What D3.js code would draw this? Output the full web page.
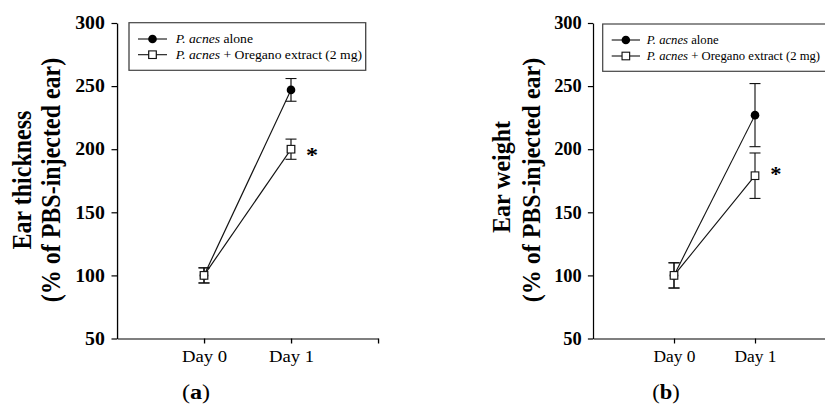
<!DOCTYPE html>
<html><head><meta charset="utf-8">
<script src="https://cdn.jsdelivr.net/npm/d3@7"></script>
<style>body{margin:0;background:#fff} svg{display:block}</style>
</head><body><svg id="c" width="825" height="404"></svg>
<script>
// ---- data ----
const days = [0, 1];
const dayLabels = ["Day 0", "Day 1"];
const yTicks = [50, 100, 150, 200, 250, 300];
const legendLabels = [" alone", " + Oregano extract (2 mg)"];
// Panel (a) ear thickness (% of PBS-injected ear)
const thickAlone = [100, 247];
const thickAloneErr = [6, 9];
const thickOregano = [100, 200];
const thickOreganoErr = [6, 8];
// Panel (b) ear weight (% of PBS-injected ear)
const weightAlone = [100, 227];
const weightAloneErr = [10, 25];
const weightOregano = [100, 179];
const weightOreganoErr = [10, 18];
// significance marker positions (value)
const starValues = [198, 183];

const FONT = "'Liberation Serif','Times New Roman',serif";
const svg = d3.select("#c");

const panels = [
  {sx:1.1, day0:204, day1:291, title:"Ear thickness", titleX:[31,60], titleY:180,
   leg:{x0:129,x1:365.7,y0:22.7,y1:70.3,rows:[39,54.7],line:[138,167],text:175.7},
   label:"a", alone:thickAlone, aloneErr:thickAloneErr, ore:thickOregano, oreErr:thickOreganoErr, star:starValues[0]},
  {sx:1.023, day0:674, day1:755, title:"Ear weight", titleX:[510,540], titleY:177,
   leg:{x0:602.7,x1:845,y0:24,y1:71.3,rows:[40,56],line:[611.7,640],text:646.7},
   label:"b", alone:weightAlone, aloneErr:weightAloneErr, ore:weightOregano, oreErr:weightOreganoErr, star:starValues[1]}
];

const y = d3.scaleLinear().domain([50, 300]).range([338.5, 23]);

panels.forEach(p => {
  const sx = p.sx;
  const g = svg.append("g").attr("transform", `scale(${sx},1)`);
  const x = d3.scaleLinear().domain([0, 1]).range([p.day0/sx, p.day1/sx]);
  const xAxisScale = d3.scaleLinear().domain([-1, 2]).range([x(-1), x(2)]);

  // y axis
  const ya = g.append("g").attr("transform", `translate(${x(-1)},0)`)
    .call(d3.axisLeft(y).tickValues(yTicks).tickSize(5).tickSizeOuter(0).tickPadding(6));
  ya.selectAll("text").attr("font-family", FONT).attr("font-size", 18).attr("font-weight", "bold").attr("fill", "#000");
  ya.selectAll("line,path").attr("stroke", "#000").attr("stroke-width", 1.2);

  // x axis
  const xa = g.append("g").attr("transform", `translate(0,${y(50)})`)
    .call(d3.axisBottom(xAxisScale).tickValues([0, 1, 2]).tickSize(5).tickSizeOuter(0).tickPadding(6.5)
      .tickFormat(d => dayLabels[d] || ""));
  xa.selectAll("text").attr("font-family", FONT).attr("font-size", 17).attr("fill", "#000");
  xa.selectAll("line,path").attr("stroke", "#000").attr("stroke-width", 1.2);

  // y title
  g.append("text").attr("font-family", FONT).attr("font-weight", "bold").attr("font-size", 24)
    .attr("text-anchor", "middle").attr("fill", "#000")
    .attr("transform", `translate(${p.titleX[0]/sx},${p.titleY}) rotate(-90)`)
    .text(p.title);
  g.append("text").attr("font-family", FONT).attr("font-weight", "bold").attr("font-size", 24)
    .attr("text-anchor", "middle").attr("fill", "#000")
    .attr("transform", `translate(${p.titleX[1]/sx},180) rotate(-90)`)
    .text("(% of PBS-injected ear)");

  // series
  const series = [
    {vals:p.alone, err:p.aloneErr, filled:true},
    {vals:p.ore, err:p.oreErr, filled:false}
  ];
  const line = d3.line().x((d, i) => x(days[i])).y(d => y(d));
  series.forEach(s => {
    g.append("path").datum(s.vals).attr("d", line).attr("fill", "none").attr("stroke", "#111").attr("stroke-width", 1.1);
    s.vals.forEach((v, i) => {
      const cx = x(days[i]);
      const e = s.err[i];
      const hw = 5.5/sx;
      g.append("line").attr("x1", cx).attr("x2", cx).attr("y1", y(v+e)).attr("y2", y(v-e)).attr("stroke", "#111").attr("stroke-width", 1.1);
      [v+e, v-e].forEach(w => g.append("line").attr("x1", cx-hw).attr("x2", cx+hw).attr("y1", y(w)).attr("y2", y(w)).attr("stroke", "#111").attr("stroke-width", 1.1));
    });
    s.vals.forEach((v, i) => {
      const cx = x(days[i]);
      if (s.filled) {
        g.append("ellipse").attr("cx", cx).attr("cy", y(v)).attr("rx", 4.3/sx).attr("ry", 4.3).attr("fill", "#000");
      } else {
        g.append("rect").attr("x", cx-3.8/sx).attr("y", y(v)-3.8).attr("width", 7.6/sx).attr("height", 7.6)
          .attr("fill", "#fff").attr("stroke", "#111").attr("stroke-width", 1.1);
      }
    });
  });

  // significance star
  g.append("text").attr("x", x(1) + 21/sx).attr("y", y(p.star) + 10).attr("text-anchor", "middle")
    .attr("font-family", FONT).attr("font-weight", "bold").attr("font-size", 22).attr("fill", "#000").text("*");

  // legend
  const L = p.leg;
  g.append("rect").attr("x", L.x0/sx).attr("y", L.y0).attr("width", (L.x1-L.x0)/sx).attr("height", L.y1-L.y0)
    .attr("fill", "#fff").attr("stroke", "#444").attr("stroke-width", 1.2);
  [true, false].forEach((filled, k) => {
    const ry = L.rows[k];
    g.append("line").attr("x1", L.line[0]/sx).attr("x2", L.line[1]/sx).attr("y1", ry).attr("y2", ry).attr("stroke", "#111").attr("stroke-width", 1.1);
    const mx = (L.line[0] + L.line[1]) / 2 / sx;
    if (filled) g.append("ellipse").attr("cx", mx).attr("cy", ry).attr("rx", 4.3/sx).attr("ry", 4.3).attr("fill", "#000");
    else g.append("rect").attr("x", mx-3.8/sx).attr("y", ry-3.8).attr("width", 7.6/sx).attr("height", 7.6).attr("fill", "#fff").attr("stroke", "#111").attr("stroke-width", 1.1);
    const t = g.append("text").attr("x", L.text/sx).attr("y", ry).attr("dy", "0.35em")
      .attr("font-family", FONT).attr("font-size", 12.4).attr("fill", "#000");
    t.append("tspan").attr("font-style", "italic").text("P. acnes");
    t.append("tspan").text(legendLabels[k]);
  });

  // panel label
  const lab = g.append("text").attr("x", (p.day0 - 8)/sx).attr("y", 399).attr("text-anchor", "middle")
    .attr("font-family", FONT).attr("font-size", 22).attr("fill", "#000");
  lab.append("tspan").text("(");
  lab.append("tspan").attr("font-weight", "bold").text(p.label);
  lab.append("tspan").text(")");
});
</script></body></html>
